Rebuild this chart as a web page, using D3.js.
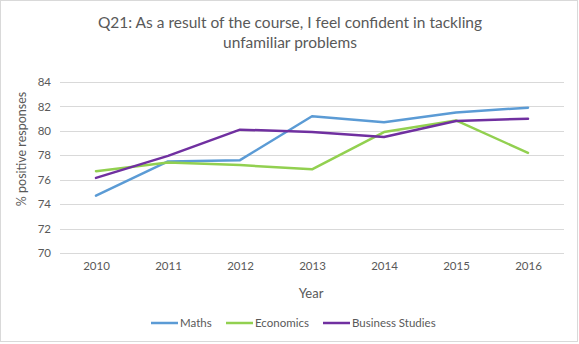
<!DOCTYPE html>
<html><head><meta charset="utf-8">
<script src="https://cdn.jsdelivr.net/npm/d3@7"></script>
<style>body{margin:0;background:#fff}svg{display:block}text{font-family:Lato,"Open Sans",sans-serif;fill:#595959}</style>
</head><body><svg id="c" width="579" height="344"></svg>
<script>
const years = ["2010","2011","2012","2013","2014","2015","2016"];
const maths = [74.7, 77.5, 77.6, 81.2, 80.7, 81.5, 81.9];
const economics = [76.7, 77.4, 77.2, 76.85, 79.9, 80.85, 78.2];
const business = [76.15, 77.95, 80.1, 79.9, 79.5, 80.8, 81.0];
const yTicks = [70, 72, 74, 76, 78, 80, 82, 84];
const seriesNames = ["Maths", "Economics", "Business Studies"];
const colors = ["#5B9BD5", "#92D050", "#7030A0"];
const titleLines = ["Q21: As a result of the course, I feel confident in tackling", "unfamiliar problems"];

const svg = d3.select("#c");
svg.append("rect").attr("x",0.5).attr("y",0.5).attr("width",577).attr("height",341)
  .attr("fill","#fff").attr("stroke","#d9d9d9");

const x = d3.scalePoint().domain(years).range([96, 528]);
const y = d3.scaleLinear().domain([70, 84]).range([253, 82]);

// grid
svg.append("g").selectAll("line").data(yTicks).join("line")
  .attr("x1",60).attr("x2",564)
  .attr("y1",d=>Math.round(y(d))+0.5).attr("y2",d=>Math.round(y(d))+0.5)
  .attr("stroke","#d9d9d9").attr("stroke-width",1);

// y axis labels
const yAxis = svg.append("g").attr("transform","translate(51,0)")
  .call(d3.axisLeft(y).tickValues(yTicks).tickSize(0).tickPadding(0));
yAxis.select(".domain").remove();
yAxis.selectAll("text").attr("font-size","11.5px").style("font-family","Lato,sans-serif").attr("fill","#595959");

// x axis labels
const xAxis = svg.append("g").attr("transform","translate(0,262)")
  .call(d3.axisBottom(x).tickSize(0).tickPadding(0));
xAxis.select(".domain").remove();
xAxis.selectAll("text").attr("font-size","11.5px").style("font-family","Lato,sans-serif").attr("fill","#595959");

// lines
const data = [maths, economics, business];
const line = d3.line().x((d,i)=>x(years[i])).y(d=>y(d));
svg.append("g").selectAll("path").data(data).join("path")
  .attr("d", line).attr("fill","none")
  .attr("stroke",(d,i)=>colors[i]).attr("stroke-width",2.5)
  .attr("stroke-linejoin","round").attr("stroke-linecap","round");

// title
svg.append("g").selectAll("text").data(titleLines).join("text")
  .attr("x",290).attr("y",(d,i)=>28+i*20).attr("text-anchor","middle")
  .attr("font-size","15.5px").text(d=>d);

// axis titles
svg.append("text").attr("x",311).attr("y",298).attr("text-anchor","middle")
  .attr("font-size","13px").text("Year");
svg.append("text").attr("transform","translate(26,149) rotate(-90)")
  .attr("text-anchor","middle").attr("font-size","12.5px").text("% positive responses");

// legend
const legX = [151, 226, 323];
const leg = svg.append("g").selectAll("g").data(seriesNames).join("g")
  .attr("transform",(d,i)=>`translate(${legX[i]},323)`);
leg.append("line").attr("x1",0).attr("x2",27).attr("y1",0).attr("y2",0)
  .attr("stroke",(d,i)=>colors[i]).attr("stroke-width",2.5);
leg.append("text").attr("x",29).attr("y",4).attr("font-size","11.5px").text(d=>d);
</script></body></html>
